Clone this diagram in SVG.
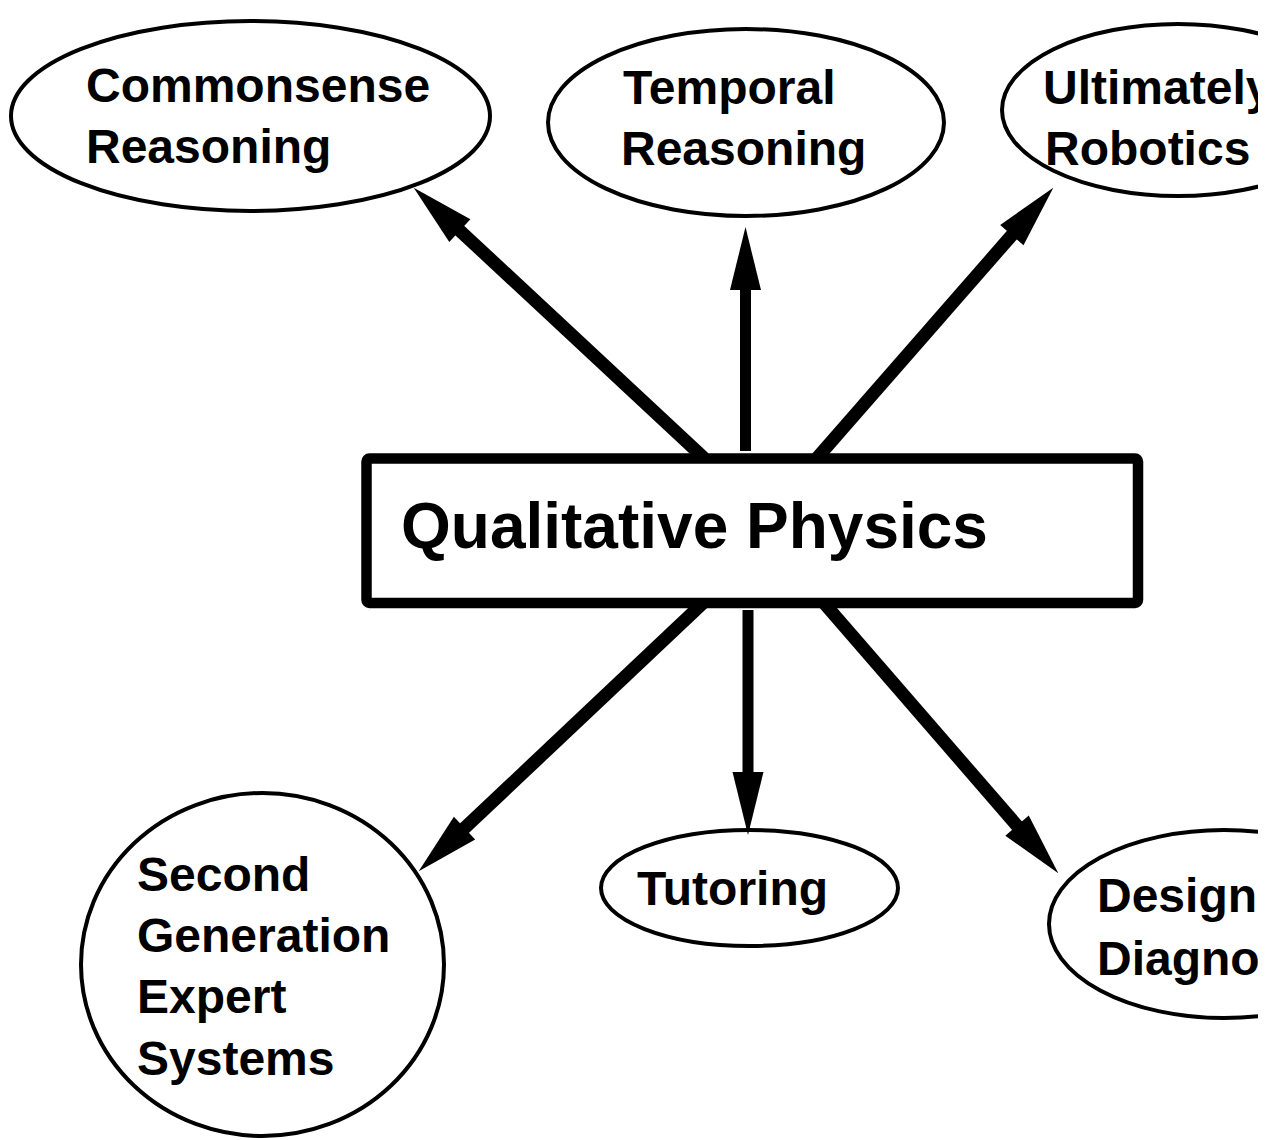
<svg xmlns="http://www.w3.org/2000/svg" width="1274" height="1140" viewBox="0 0 1274 1140">
  <style>
    .node { fill: #ffffff; stroke: #000000; stroke-width: 4; }
    .label { font-family: "Liberation Sans", Arial, Helvetica, sans-serif; font-weight: bold; font-size: 48px; fill: #000000; }
    .title { font-size: 64px; }
    .hub { fill: #ffffff; stroke: #000000; stroke-width: 10.5; stroke-linejoin: round; }
    .edge { stroke: #000000; stroke-width: 13; fill: none; marker-end: url(#head); }
    .edge.v { stroke-width: 11; }
  </style>
  <defs>
    <marker id="head" markerUnits="userSpaceOnUse" markerWidth="64" markerHeight="32" refX="1" refY="15.5" orient="auto" overflow="visible">
      <path d="M0,0 L63,15.5 L0,31 Z" fill="#000000"/>
    </marker>
    <clipPath id="page">
      <rect x="0" y="0" width="1258" height="1140"/>
    </clipPath>
  </defs>
  <rect x="0" y="0" width="1274" height="1140" fill="#ffffff"/>

  <g clip-path="url(#page)">
    <g id="commonsense-reasoning">
      <ellipse class="node" cx="250.5" cy="116" rx="239.5" ry="95"/>
      <text class="label" x="86" y="102">Commonsense</text>
      <text class="label" x="86" y="163">Reasoning</text>
    </g>

    <g id="temporal-reasoning">
      <ellipse class="node" cx="746" cy="122.5" rx="198" ry="93.5"/>
      <text class="label" x="623" y="104">Temporal</text>
      <text class="label" x="621" y="165">Reasoning</text>
    </g>

    <g id="robotics">
      <ellipse class="node" cx="1178" cy="110" rx="176" ry="86"/>
      <text class="label" x="1043" y="104">Ultimately</text>
      <text class="label" x="1045" y="165">Robotics</text>
    </g>

    <g id="expert-systems">
      <ellipse class="node" cx="262.5" cy="964.5" rx="181.5" ry="171.5"/>
      <text class="label" x="137" y="891">Second</text>
      <text class="label" x="137" y="952">Generation</text>
      <text class="label" x="137" y="1013">Expert</text>
      <text class="label" x="137" y="1075">Systems</text>
    </g>

    <g id="tutoring">
      <ellipse class="node" cx="749.5" cy="888" rx="148.5" ry="58"/>
      <text class="label" x="637" y="905">Tutoring</text>
    </g>

    <g id="design-diagnosis">
      <ellipse class="node" cx="1224" cy="924" rx="175" ry="94"/>
      <text class="label" x="1097" y="912">Design</text>
      <text class="label" x="1097" y="975">Diagnosis</text>
    </g>

    <!-- connectors fan out from the central box -->
    <g id="connectors">
      <line class="edge" x1="704" y1="458" x2="459.1" y2="229.9"/>
      <line class="edge v" x1="745.5" y1="451" x2="745.5" y2="289"/>
      <line class="edge" x1="817" y1="458" x2="1012.5" y2="234.4"/>
      <line class="edge" x1="703" y1="603" x2="463.8" y2="828.8"/>
      <line class="edge v" x1="748" y1="610" x2="748" y2="773"/>
      <line class="edge" x1="824" y1="603" x2="1017.7" y2="826.4"/>
    </g>

    <g id="qualitative-physics">
      <rect class="hub" x="366.5" y="458.5" width="771.5" height="144.5" rx="3"/>
      <text class="label title" x="401" y="548">Qualitative Physics</text>
    </g>
  </g>
</svg>
